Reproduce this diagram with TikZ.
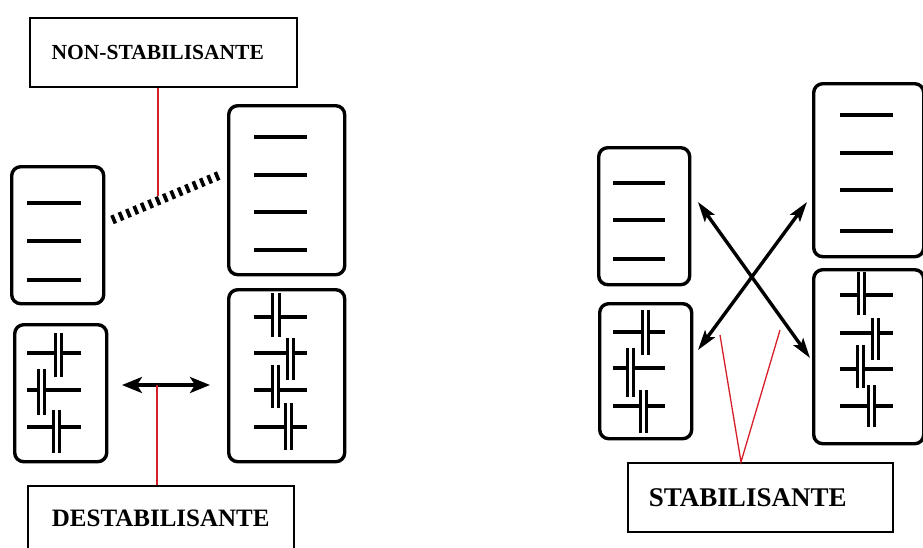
\documentclass[tikz,border=0pt]{standalone}
\usepackage{fontspec}
\setmainfont{Liberation Serif}
\usetikzlibrary{arrows.meta}
\definecolor{lnred}{RGB}{215,30,40}
\newcommand\caprow[7]{% y, xL, xR, b1, b2, ytop, ybot
  \draw[seg] (#2,#1) -- (#4,#1);
  \draw[seg] (#5,#1) -- (#3,#1);
  \draw[bar] (#4,#6) -- (#4,#7);
  \draw[bar] (#5,#6) -- (#5,#7);
}
\begin{document}
\begin{tikzpicture}[x=1pt,y=-1pt,
  rbox/.style={draw, line width=3.4pt, rounded corners=9pt, inner sep=0pt, anchor=north west},
  tbox/.style={draw, line width=1.5pt, inner sep=0pt, anchor=north west, font=\bfseries},
  seg/.style={line width=3.4pt},
  bar/.style={line width=3pt},
  redl/.style={draw=lnred, line width=1.3pt},
  hatch/.style={line width=9pt, dash pattern=on 3.6pt off 4.4pt},
  harr/.style={line width=3.4pt, {Stealth[length=20pt,width=16pt,inset=5pt]}-{Stealth[length=20pt,width=16pt,inset=5pt]}},
  sarr/.style={line width=3.4pt, {Stealth[length=20pt,width=12pt,inset=4pt]}-{Stealth[length=20pt,width=12pt,inset=4pt]}},
]
\clip (0,0) rectangle (923,547);
\useasboundingbox (0,0) rectangle (923,547);

% ---------- left part ----------
\node[tbox, minimum width=267pt, minimum height=69pt, font=\bfseries\fontsize{21.5}{21.5}\selectfont] (ns) at (29,17) {NON-STABILISANTE\kern11pt};

\node[rbox, minimum width=92pt, minimum height=137pt] (l1) at (10,165) {};
\foreach \yy in {203,241,280} \draw[seg] (27,\yy) -- (81,\yy);

\node[rbox, minimum width=116pt, minimum height=169pt] (r1) at (227,104) {};
\foreach \yy in {137,175,212,250} \draw[seg] (254,\yy) -- (307,\yy);

\coordinate (h1) at (112,220);
\coordinate (h2) at (220,175);
\draw[hatch] (h1) -- (h2);
\coordinate (hm) at (158,196);
\draw[redl] (hm) -- (hm |- ns.south);

\node[rbox, minimum width=92pt, minimum height=137pt] (l2) at (13,323) {};
\caprow{353}{27}{81}{55}{61}{333}{377}
\caprow{390}{27}{81}{38}{44}{369}{415}
\caprow{427}{27}{81}{53}{59}{410}{453}

\node[rbox, minimum width=116pt, minimum height=172pt] (r2) at (227,288) {};
\caprow{317}{254}{307}{272}{279}{293}{337}
\caprow{353}{254}{307}{287}{293}{338}{380}
\caprow{390}{254}{307}{272}{278}{365}{408}
\caprow{427}{254}{307}{285}{291}{403}{450}

\coordinate (d1) at (122,385);
\coordinate (d2) at (210,385);
\draw[harr] (d1) -- (d2);
\coordinate (dm) at (157,385);

\node[tbox, minimum width=266pt, minimum height=66pt, font=\bfseries\fontsize{25}{25}\selectfont] (ds) at (27,485) {DESTABILISANTE};
\draw[redl] (dm) -- (dm |- ds.north);

% ---------- right part ----------
\node[rbox, minimum width=91pt, minimum height=137pt] (l3) at (597,146) {};
\foreach \yy in {183,220,259} \draw[seg] (613,\yy) -- (665,\yy);

\node[rbox, minimum width=110pt, minimum height=173pt] (r3) at (812,82) {};
\foreach \yy in {115,153,190,231} \draw[seg] (840,\yy) -- (893,\yy);

\node[rbox, minimum width=92pt, minimum height=135pt] (l4) at (598,302) {};
\caprow{332}{613}{665}{642}{648}{310}{355}
\caprow{368}{613}{665}{627}{633}{348}{397}
\caprow{406}{613}{665}{640}{646}{390}{433}

\node[rbox, minimum width=110pt, minimum height=174pt] (r4) at (812,268) {};
\caprow{295}{840}{893}{858}{864}{272}{315}
\caprow{333}{840}{893}{872}{878}{318}{360}
\caprow{369}{840}{893}{857}{863}{345}{388}
\caprow{406}{840}{893}{868}{874}{385}{427}

\coordinate (a1) at (698,202);
\coordinate (a2) at (810,358);
\coordinate (b1) at (807,202);
\coordinate (b2) at (698,350);
\draw[sarr] (a1) -- (a2);
\draw[sarr] (b1) -- (b2);

\node[tbox, minimum width=265pt, minimum height=69pt, font=\bfseries\fontsize{27}{27}\selectfont] (st) at (627,462) {STABILISANTE\kern25pt};
\coordinate (v1) at (720,335);
\coordinate (v2) at (780,330);
\coordinate (vx) at (741,462);
\draw[redl] (v1) -- (vx |- st.north) -- (v2);
\end{tikzpicture}
\end{document}
